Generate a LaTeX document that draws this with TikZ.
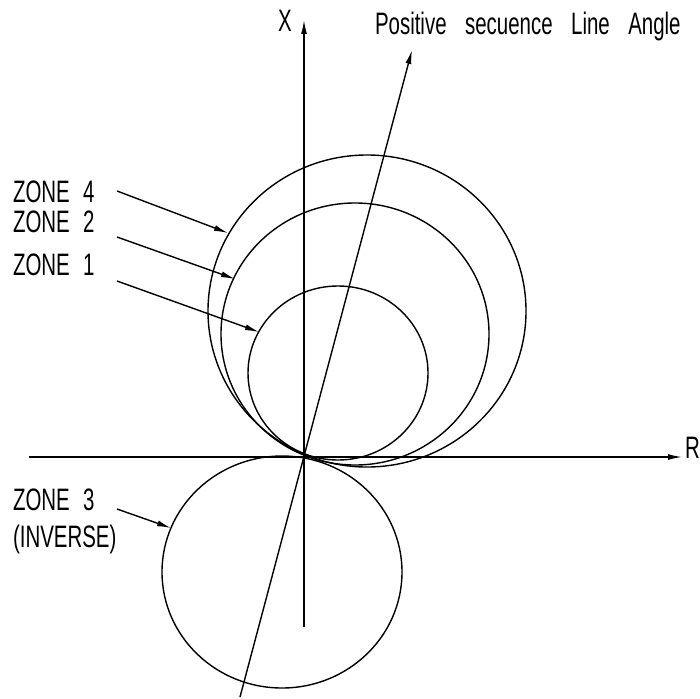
\documentclass[tikz,border=0pt]{standalone}
\usepackage{fontspec}
\setmainfont{Liberation Sans}
\usetikzlibrary{arrows.meta}
\newcommand{\cadtxt}[1]{\scalebox{0.66}[1]{\fontsize{31}{32}\selectfont #1}}
\tikzset{
  ln/.style={line width=1.4pt, black},
  arr/.style={ln, -{Latex[length=14pt,width=6pt]}},
  lbl/.style={anchor=base west, inner sep=0pt, outer sep=0pt}
}
\begin{document}
\begin{tikzpicture}[x=1pt,y=-1pt]
\useasboundingbox (0,0) rectangle (700,698);
% axes
\coordinate (O) at (304,457);
\coordinate (xb) at (304,627);
\coordinate (xt) at (304,20);
\coordinate (rl) at (29,457);
\coordinate (rr) at (682,457);
\coordinate (lb) at (240,697);
\coordinate (lt) at (412,50);
\draw[arr] (xb) -- (xt);
\draw[arr] (rl) -- (rr);
\draw[arr] (lb) -- (lt);
% circles
\draw[ln] (367,311) ellipse [x radius=159, y radius=156];
\draw[ln] (355,334) ellipse [x radius=134, y radius=131];
\draw[ln] (338,373) ellipse [x radius=90, y radius=87];
\draw[ln] (282,572) ellipse [x radius=120, y radius=116];
% labels
\node[lbl] (z4) at (13,202) {\cadtxt{ZONE\hspace{20pt}4}};
\node[lbl] (z2) at (13,232) {\cadtxt{ZONE\hspace{20pt}2}};
\node[lbl] (z1) at (13,275) {\cadtxt{ZONE\hspace{20pt}1}};
\node[lbl] (z3) at (13,510) {\cadtxt{ZONE\hspace{20pt}3}};
\node[lbl] (inv) at (13,547) {\cadtxt{(INVERSE)}};
\node[lbl] (xl) at (278,32) {\cadtxt{X}};
\node[lbl] (rlab) at (685,458) {\cadtxt{R}};
\node[lbl] (pl) at (375,35) {\cadtxt{Positive\hspace{28pt}secuence\hspace{28pt}Line\hspace{28pt}Angle}};
% label arrows
\coordinate (a4s) at (117,191); \coordinate (a4t) at (228,233);
\coordinate (a2s) at (117,237); \coordinate (a2t) at (235,279);
\coordinate (a1s) at (117,281); \coordinate (a1t) at (259,332);
\coordinate (a3s) at (117,509); \coordinate (a3t) at (171,528);
\draw[arr] (a4s) -- (a4t);
\draw[arr] (a2s) -- (a2t);
\draw[arr] (a1s) -- (a1t);
\draw[arr] (a3s) -- (a3t);
\end{tikzpicture}
\end{document}
